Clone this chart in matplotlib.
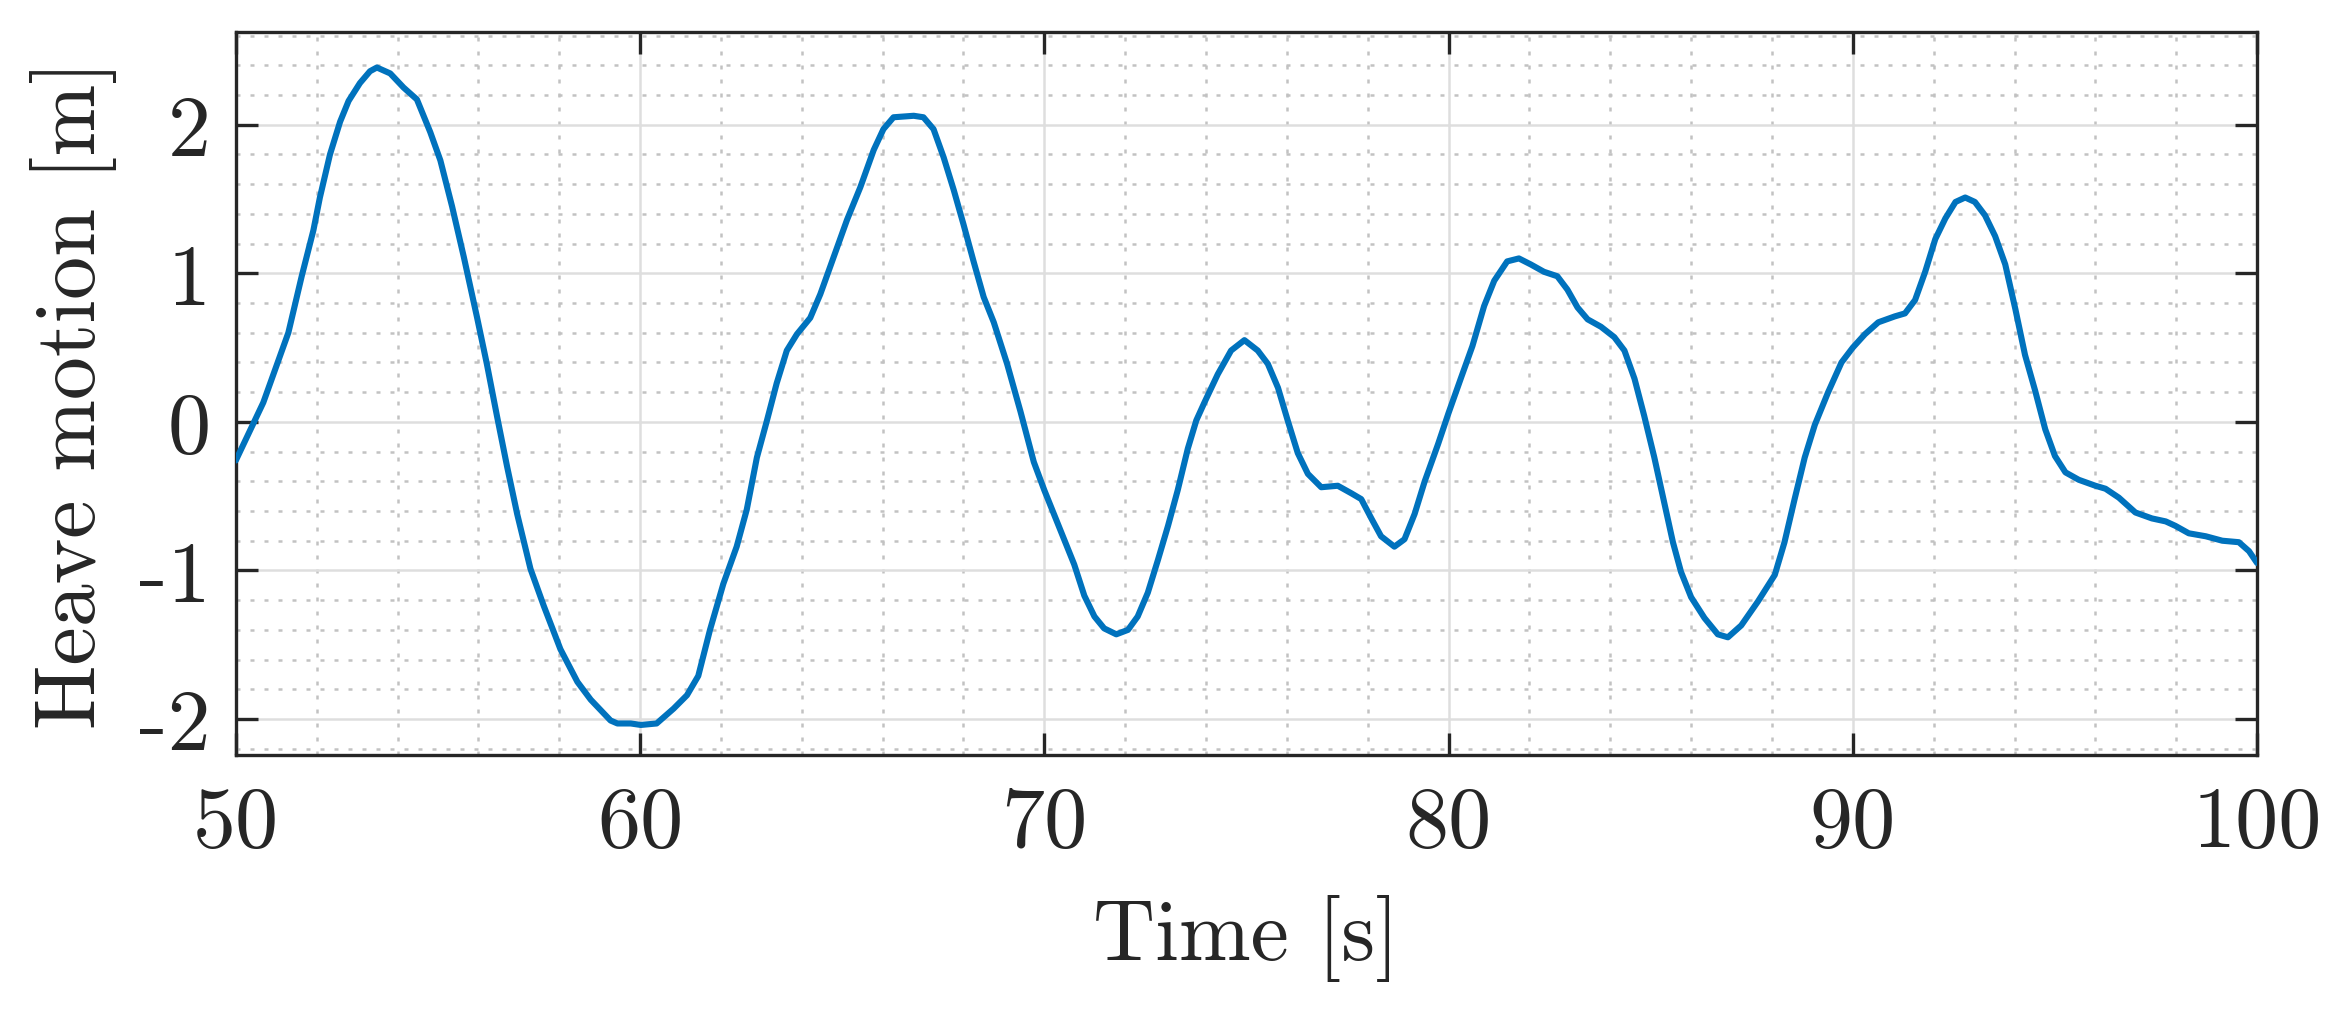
import numpy as np
import matplotlib
matplotlib.use("Agg")
import matplotlib.pyplot as plt
from matplotlib.ticker import MultipleLocator

# heave motion (time in s, heave in m)
time_s = [
    50.00, 50.47, 50.68, 50.93, 51.30, 51.63, 51.92, 52.08, 52.33, 52.58,
    52.79, 53.07, 53.32, 53.49, 53.82, 54.15, 54.48, 54.81, 55.06, 55.35,
    55.64, 55.97, 56.21, 56.46, 56.71, 56.96, 57.29, 57.62, 58.03, 58.45,
    58.78, 59.27, 59.44, 59.77, 60.02, 60.41, 60.83, 61.16, 61.44, 61.73,
    62.06, 62.39, 62.64, 62.89, 63.14, 63.38, 63.63, 63.88, 64.21, 64.46,
    64.79, 65.12, 65.45, 65.78, 66.02, 66.27, 66.77, 67.01, 67.26, 67.51,
    67.76, 68.00, 68.25, 68.50, 68.75, 69.08, 69.41, 69.74, 70.00, 70.40,
    70.74, 70.99, 71.24, 71.48, 71.78, 72.07, 72.31, 72.56, 72.81, 73.06,
    73.30, 73.55, 73.76, 73.96, 74.29, 74.62, 74.95, 75.28, 75.53, 75.78,
    76.02, 76.27, 76.52, 76.85, 77.26, 77.59, 77.84, 78.09, 78.33, 78.66,
    78.91, 79.16, 79.41, 79.74, 80.00, 80.30, 80.59, 80.88, 81.13, 81.45,
    81.74, 82.03, 82.36, 82.69, 82.94, 83.19, 83.44, 83.77, 84.10, 84.35,
    84.60, 84.84, 85.09, 85.34, 85.55, 85.75, 86.00, 86.33, 86.66, 86.91,
    87.24, 87.65, 88.07, 88.31, 88.56, 88.81, 89.06, 89.39, 89.72, 90.00,
    90.30, 90.63, 91.04, 91.29, 91.54, 91.79, 92.04, 92.29, 92.54, 92.78,
    93.02, 93.27, 93.52, 93.77, 94.02, 94.26, 94.51, 94.76, 95.00, 95.26,
    95.59, 96.00, 96.25, 96.58, 96.99, 97.40, 97.74, 97.98, 98.31, 98.73,
    99.14, 99.55, 99.80, 100.00,
]
heave_m = [
    -0.26, 0.01, 0.13, 0.32, 0.60, 0.98, 1.29, 1.51, 1.80, 2.02,
    2.16, 2.28, 2.36, 2.385, 2.345, 2.25, 2.17, 1.95, 1.76, 1.45,
    1.11, 0.70, 0.39, 0.04, -0.30, -0.62, -0.99, -1.24, -1.53, -1.75,
    -1.87, -2.01, -2.03, -2.03, -2.04, -2.03, -1.93, -1.84, -1.71, -1.40,
    -1.09, -0.84, -0.59, -0.24, 0.01, 0.26, 0.48, 0.59, 0.70, 0.86,
    1.11, 1.36, 1.58, 1.83, 1.97, 2.05, 2.06, 2.05, 1.97, 1.78,
    1.56, 1.33, 1.08, 0.84, 0.67, 0.39, 0.07, -0.27, -0.46, -0.73,
    -0.96, -1.17, -1.31, -1.39, -1.43, -1.40, -1.31, -1.15, -0.93, -0.70,
    -0.46, -0.18, 0.01, 0.13, 0.32, 0.48, 0.55, 0.48, 0.39, 0.23,
    0.01, -0.21, -0.35, -0.44, -0.43, -0.48, -0.52, -0.65, -0.77, -0.84,
    -0.79, -0.62, -0.40, -0.15, 0.06, 0.29, 0.51, 0.78, 0.95, 1.08,
    1.10, 1.06, 1.01, 0.98, 0.89, 0.77, 0.69, 0.64, 0.57, 0.48,
    0.29, 0.04, -0.24, -0.55, -0.81, -1.01, -1.18, -1.32, -1.43, -1.45,
    -1.37, -1.21, -1.03, -0.81, -0.52, -0.24, -0.02, 0.20, 0.40, 0.50,
    0.59, 0.67, 0.71, 0.73, 0.82, 1.01, 1.23, 1.37, 1.48, 1.51,
    1.48, 1.39, 1.25, 1.06, 0.76, 0.45, 0.21, -0.05, -0.23, -0.34,
    -0.39, -0.43, -0.45, -0.51, -0.61, -0.65, -0.67, -0.70, -0.75, -0.77,
    -0.80, -0.81, -0.87, -0.95,
]

x_ticks = [50, 60, 70, 80, 90, 100]
y_ticks = [-2, -1, 0, 1, 2]

plt.rcParams["font.family"] = ["cmr10", "DejaVu Serif"]
plt.rcParams["axes.unicode_minus"] = False
plt.rcParams["axes.formatter.use_mathtext"] = False

dark = "#262626"
fig = plt.figure(figsize=(23.37, 10.12), dpi=100)
ax = fig.add_axes([0.1009, 0.2527, 0.9658 - 0.1009, 0.9677 - 0.2527])

ax.plot(time_s, heave_m, color="#0072BD", lw=4.4, zorder=3,
        solid_joinstyle="round", solid_capstyle="round")

ax.set_xlim(50, 100)
ax.set_ylim(-2.244, 2.626)
ax.set_xticks(x_ticks)
ax.set_yticks(y_ticks)
ax.set_xticklabels([str(v) for v in x_ticks])
ax.set_yticklabels([str(v) for v in y_ticks])
ax.xaxis.set_minor_locator(MultipleLocator(2))
ax.yaxis.set_minor_locator(MultipleLocator(0.2))

ax.grid(which="major", color="#dedede", lw=1.8, ls="-", zorder=0)
ax.grid(which="minor", color="#c2c2c2", lw=1.8, ls=(0, (1.6, 4.0)), zorder=0)
ax.set_axisbelow(True)

for s in ax.spines.values():
    s.set_color(dark)
    s.set_linewidth(2.4)

ax.tick_params(which="major", direction="in", length=15.5, width=2.4,
               color=dark, labelcolor=dark, labelsize=62,
               top=True, right=True)
ax.tick_params(axis="x", which="major", pad=22)
ax.tick_params(axis="y", which="major", pad=18)
ax.tick_params(which="minor", length=0, top=True, right=True)

ax.set_xlabel("Time [s]", fontsize=62, color=dark, labelpad=22)
ax.set_ylabel("Heave motion [m]", fontsize=62, color=dark, labelpad=16)

fig.savefig("out.png", dpi=100, facecolor="white")
